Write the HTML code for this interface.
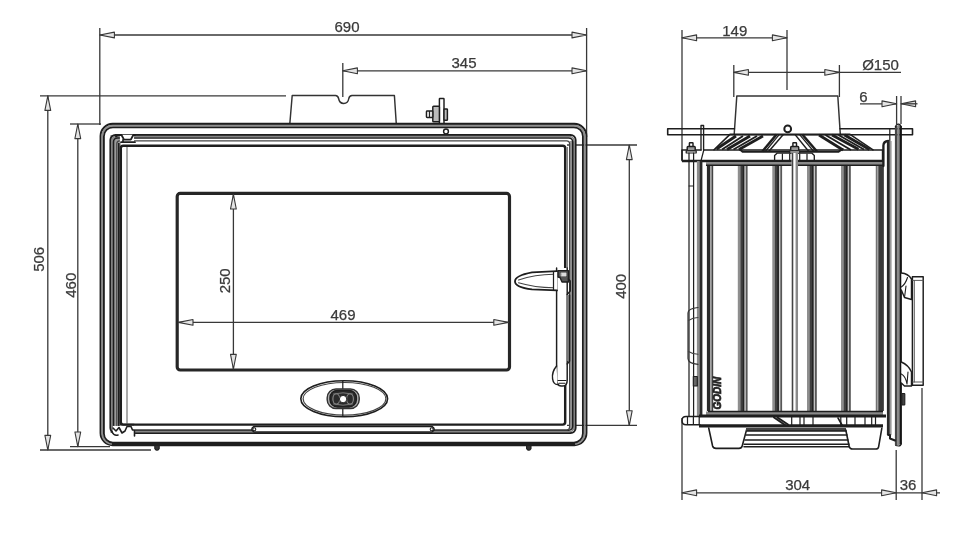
<!DOCTYPE html>
<html><head><meta charset="utf-8"><title>Dimensions</title>
<style>
html,body{margin:0;padding:0;background:#fff;}
body{width:960px;height:548px;overflow:hidden;}
svg{display:block;filter:blur(0.55px);}
text{font-family:"Liberation Sans",sans-serif;}
</style></head><body>
<svg width="960" height="548" viewBox="0 0 960 548">
<rect x="0" y="0" width="960" height="548" fill="#fff"/>
<line x1="99.8" y1="28" x2="99.8" y2="125" stroke="#383838" stroke-width="1.3" />
<line x1="586.6" y1="28" x2="586.6" y2="137" stroke="#383838" stroke-width="1.3" />
<line x1="99.8" y1="35" x2="586.6" y2="35" stroke="#383838" stroke-width="1.3" />
<polygon points="99.8,35 114.39999999999999,32.1 114.39999999999999,37.9" fill="#e4e4e4" stroke="#383838" stroke-width="1.1" stroke-linejoin="round"/>
<polygon points="586.6,35 572.0,32.1 572.0,37.9" fill="#e4e4e4" stroke="#383838" stroke-width="1.1" stroke-linejoin="round"/>
<text x="347" y="32" font-size="15" text-anchor="middle" fill="#3a3a3a" stroke="#3a3a3a" stroke-width="0.25" >690</text>
<line x1="342.8" y1="63" x2="342.8" y2="97" stroke="#383838" stroke-width="1.3" />
<line x1="342.8" y1="70.8" x2="586.6" y2="70.8" stroke="#383838" stroke-width="1.3" />
<polygon points="342.8,70.8 357.40000000000003,67.89999999999999 357.40000000000003,73.7" fill="#e4e4e4" stroke="#383838" stroke-width="1.1" stroke-linejoin="round"/>
<polygon points="586.6,70.8 572.0,67.89999999999999 572.0,73.7" fill="#e4e4e4" stroke="#383838" stroke-width="1.1" stroke-linejoin="round"/>
<text x="464" y="68.3" font-size="15" text-anchor="middle" fill="#3a3a3a" stroke="#3a3a3a" stroke-width="0.25" >345</text>
<line x1="40" y1="95.8" x2="286" y2="95.8" stroke="#383838" stroke-width="1.3" />
<line x1="40" y1="450" x2="151" y2="450" stroke="#383838" stroke-width="1.3" />
<line x1="47.8" y1="95.8" x2="47.8" y2="450" stroke="#383838" stroke-width="1.3" />
<polygon points="47.8,95.8 44.9,110.39999999999999 50.699999999999996,110.39999999999999" fill="#e4e4e4" stroke="#383838" stroke-width="1.1" stroke-linejoin="round"/>
<polygon points="47.8,450 44.9,435.4 50.699999999999996,435.4" fill="#e4e4e4" stroke="#383838" stroke-width="1.1" stroke-linejoin="round"/>
<text x="44.3" y="259.3" font-size="15" text-anchor="middle" fill="#3a3a3a" stroke="#3a3a3a" stroke-width="0.25" transform="rotate(-90 44.3 259.3)" >506</text>
<line x1="70" y1="124" x2="101" y2="124" stroke="#383838" stroke-width="1.3" />
<line x1="70" y1="446.6" x2="110" y2="446.6" stroke="#383838" stroke-width="1.3" />
<line x1="77.8" y1="124" x2="77.8" y2="446.6" stroke="#383838" stroke-width="1.3" />
<polygon points="77.8,124 74.89999999999999,138.6 80.7,138.6" fill="#e4e4e4" stroke="#383838" stroke-width="1.1" stroke-linejoin="round"/>
<polygon points="77.8,446.6 74.89999999999999,432.0 80.7,432.0" fill="#e4e4e4" stroke="#383838" stroke-width="1.1" stroke-linejoin="round"/>
<text x="76.2" y="285.2" font-size="15" text-anchor="middle" fill="#3a3a3a" stroke="#3a3a3a" stroke-width="0.25" transform="rotate(-90 76.2 285.2)" >460</text>
<line x1="567" y1="145" x2="637" y2="145" stroke="#383838" stroke-width="1.3" />
<line x1="567" y1="425.3" x2="637" y2="425.3" stroke="#383838" stroke-width="1.3" />
<line x1="629.3" y1="145" x2="629.3" y2="425.3" stroke="#383838" stroke-width="1.3" />
<polygon points="629.3,145 626.4,159.6 632.1999999999999,159.6" fill="#e4e4e4" stroke="#383838" stroke-width="1.1" stroke-linejoin="round"/>
<polygon points="629.3,425.3 626.4,410.7 632.1999999999999,410.7" fill="#e4e4e4" stroke="#383838" stroke-width="1.1" stroke-linejoin="round"/>
<text x="626.5" y="286.3" font-size="15" text-anchor="middle" fill="#3a3a3a" stroke="#3a3a3a" stroke-width="0.25" transform="rotate(-90 626.5 286.3)" >400</text>
<path d="M289.8,124 L292.2,95.5 L335.5,95.5 Q338,95.7 338.6,98.5 Q339.5,103.4 343.7,103.4 Q348,103.4 348.8,98.5 Q349.4,95.7 352,95.5 L394.4,95.5 L396.3,124" stroke="#333" stroke-width="1.46" fill="none" stroke-linejoin="round" stroke-linecap="round" />
<rect x="439.4" y="98.4" width="4.6" height="25.6" rx="0.5" ry="0.5" stroke="#1e1e1e" stroke-width="1.46" fill="#fff"/>
<rect x="432.8" y="106.3" width="6.6" height="15.5" rx="0.8" ry="0.8" stroke="#1e1e1e" stroke-width="1.46" fill="#bbb"/>
<rect x="426.4" y="111" width="6.4" height="6.5" rx="0.8" ry="0.8" stroke="#1e1e1e" stroke-width="1.34" fill="#ddd"/>
<rect x="444" y="109" width="3.4" height="11.3" rx="0.6" ry="0.6" stroke="#1e1e1e" stroke-width="1.46" fill="#bbb"/>
<line x1="429.5" y1="111" x2="429.5" y2="117.5" stroke="#1e1e1e" stroke-width="0.98" />
<circle cx="446" cy="131.5" r="2.4" stroke="#1e1e1e" stroke-width="1.46" fill="none"/>
<rect x="100.6" y="123.9" width="485.8" height="321.2" rx="12" ry="12" stroke="#1e1e1e" stroke-width="2.07" fill="none"/>
<rect x="102.3" y="125.6" width="482.3" height="318.3" rx="10.5" ry="10.5" stroke="#8e8e8e" stroke-width="1.83" fill="none"/>
<rect x="103.9" y="127.3" width="479.0" height="315.3" rx="9" ry="9" stroke="#1e1e1e" stroke-width="1.83" fill="none"/>
<line x1="112" y1="443.9" x2="575" y2="443.9" stroke="#1e1e1e" stroke-width="2.68" />
<rect x="110.4" y="135" width="10.4" height="298" fill="#9a9a9a" stroke="none"/>
<rect x="569.6" y="141" width="6" height="289" fill="#9c9c9c" stroke="none"/>
<rect x="110.4" y="135" width="465.2" height="298" rx="5" ry="5" stroke="#1e1e1e" stroke-width="1.95" fill="none"/>
<rect x="111.95" y="136.5" width="462.1" height="295.1" rx="4.5" ry="4.5" stroke="#858585" stroke-width="1.59" fill="none"/>
<rect x="113.5" y="138" width="459.2" height="292.2" rx="4" ry="4" stroke="#1e1e1e" stroke-width="1.59" fill="none"/>
<rect x="116.8" y="140.8" width="452.8" height="289.3" rx="3" ry="3" stroke="#444" stroke-width="1.22" fill="none"/>
<line x1="118.8" y1="143" x2="118.8" y2="428" stroke="#1e1e1e" stroke-width="1.59" />
<rect x="120.8" y="145.8" width="444.4" height="278.8" rx="2.5" ry="2.5" stroke="#1e1e1e" stroke-width="2.44" fill="none"/>
<line x1="127" y1="147" x2="127" y2="424" stroke="#666" stroke-width="1.1" />
<line x1="567.2" y1="147" x2="567.2" y2="268" stroke="#555" stroke-width="1.1" />
<path d="M120,134.8 L134,134.8 L134,142.5 L120,142.5 Z" stroke="#fff" stroke-width="0.12" fill="#fff" stroke-linejoin="round" stroke-linecap="round" />
<path d="M116,136.5 Q117,135 120,135 L121.5,135 L124,139.6 L130.8,139.6 L133.3,135 L135,135" stroke="#1e1e1e" stroke-width="1.83" fill="none" stroke-linejoin="round" stroke-linecap="round" />
<path d="M121,142.2 L135,142.2 M123,139.8 L123,142" stroke="#1e1e1e" stroke-width="1.71" fill="none" stroke-linejoin="round" stroke-linecap="round" />
<path d="M113,426 L135,426 L135,436 L113,436 Z" stroke="#fff" stroke-width="0.12" fill="#fff" stroke-linejoin="round" stroke-linecap="round" />
<path d="M113,428 L116,431 L119,427.5 L122,433 L125,431 L127,426.5 L131,426.5 L132.5,430 L134.5,430 L134.5,436" stroke="#1e1e1e" stroke-width="1.59" fill="none" stroke-linejoin="round" stroke-linecap="round" />
<path d="M112,432 Q114,436 118,435 M120.8,424.6 L134,424.6" stroke="#1e1e1e" stroke-width="1.59" fill="none" stroke-linejoin="round" stroke-linecap="round" />
<path d="M254,426.4 L432,426.4 Q436.5,429.2 432,432 L254,432 Q249.5,429.2 254,426.4 Z" stroke="#1e1e1e" stroke-width="1.46" fill="#fff" stroke-linejoin="round" stroke-linecap="round" />
<circle cx="254.3" cy="429.2" r="1.5" stroke="#1e1e1e" stroke-width="1.1" fill="none"/>
<circle cx="431.7" cy="429.2" r="1.5" stroke="#1e1e1e" stroke-width="1.1" fill="none"/>
<path d="M154.8,445.5 L154.8,448.6 Q157,451.8 159.2,448.6 L159.2,445.5 Z" stroke="#1e1e1e" stroke-width="1.1" fill="#333" stroke-linejoin="round" stroke-linecap="round" />
<path d="M526.6,445.5 L526.6,448.6 Q528.8,451.8 531,448.6 L531,445.5 Z" stroke="#1e1e1e" stroke-width="1.1" fill="#333" stroke-linejoin="round" stroke-linecap="round" />
<rect x="177.2" y="193.4" width="332.3" height="176.6" rx="3" ry="3" stroke="#262626" stroke-width="3.17" fill="none"/>
<line x1="233.4" y1="194.4" x2="233.4" y2="369" stroke="#383838" stroke-width="1.3" />
<polygon points="233.4,194.4 230.5,209.0 236.3,209.0" fill="#e4e4e4" stroke="#383838" stroke-width="1.1" stroke-linejoin="round"/>
<polygon points="233.4,369 230.5,354.4 236.3,354.4" fill="#e4e4e4" stroke="#383838" stroke-width="1.1" stroke-linejoin="round"/>
<text x="230.2" y="280.8" font-size="15" text-anchor="middle" fill="#3a3a3a" stroke="#3a3a3a" stroke-width="0.25" transform="rotate(-90 230.2 280.8)" >250</text>
<line x1="178.4" y1="322.4" x2="508.4" y2="322.4" stroke="#383838" stroke-width="1.3" />
<polygon points="178.4,322.4 193.0,319.5 193.0,325.29999999999995" fill="#e4e4e4" stroke="#383838" stroke-width="1.1" stroke-linejoin="round"/>
<polygon points="508.4,322.4 493.79999999999995,319.5 493.79999999999995,325.29999999999995" fill="#e4e4e4" stroke="#383838" stroke-width="1.1" stroke-linejoin="round"/>
<text x="343" y="319.8" font-size="15" text-anchor="middle" fill="#3a3a3a" stroke="#3a3a3a" stroke-width="0.25" >469</text>
<ellipse cx="344.2" cy="398.8" rx="43.4" ry="18" stroke="#1e1e1e" stroke-width="1.59" fill="none"/>
<ellipse cx="344.5" cy="398.8" rx="41.4" ry="16.3" stroke="#444" stroke-width="1.22" fill="none"/>
<line x1="342.8" y1="381" x2="342.8" y2="416.6" stroke="#1e1e1e" stroke-width="1.22" />
<rect x="327.2" y="388.9" width="32.0" height="19.6" rx="8.8" ry="8.8" stroke="#333" stroke-width="1.46" fill="#b0b0b0"/>
<rect x="330.0" y="390.4" width="26.4" height="16.6" rx="7.4" ry="7.4" stroke="#1e1e1e" stroke-width="1.46" fill="#2a2a2a"/>
<ellipse cx="336.3" cy="399" rx="3.4" ry="5.2" stroke="#8c8c8c" stroke-width="1.1" fill="none"/>
<ellipse cx="350" cy="399" rx="3.4" ry="5.2" stroke="#8c8c8c" stroke-width="1.1" fill="none"/>
<path d="M333.5,394 Q343,391.5 352.5,394 M333.5,404 Q343,406.5 352.5,404" stroke="#7a7a7a" stroke-width="0.98" fill="none" stroke-linejoin="round" stroke-linecap="round" />
<circle cx="343.1" cy="399.1" r="3.7" stroke="#222" stroke-width="0.98" fill="#fff"/>
<path d="M556.6,268 L556.6,378 Q556.6,386 561,386 L563,386 Q567.2,386 567.2,380 L567.2,268" stroke="#1e1e1e" stroke-width="1.46" fill="#fff" stroke-linejoin="round" stroke-linecap="round" />
<path d="M557,271.2 L532,272.4 Q515,275.6 515,281.4 Q515,287 532,289.4 L557,290.4" stroke="#1e1e1e" stroke-width="1.83" fill="#fff" stroke-linejoin="round" stroke-linecap="round" />
<path d="M518.5,280 Q535,274.4 553.5,274.2 M518.5,282.8 Q535,287.6 553.5,287.8" stroke="#444" stroke-width="1.1" fill="none" stroke-linejoin="round" stroke-linecap="round" />
<path d="M553.5,271.6 L553.5,290.2" stroke="#1e1e1e" stroke-width="1.22" fill="none" stroke-linejoin="round" stroke-linecap="round" />
<path d="M558,270.6 L568.4,270.6 L568.4,282 L562,282 L560,277.5 L558,277 Z" stroke="#1e1e1e" stroke-width="1.34" fill="#555" stroke-linejoin="round" stroke-linecap="round" />
<path d="M561.5,273 L566,273 L566,276 L561.5,276 Z" stroke="#ddd" stroke-width="0.73" fill="#ddd" stroke-linejoin="round" stroke-linecap="round" />
<path d="M568.4,279 L570.2,281 L570.2,291 L567.2,294.5" stroke="#1e1e1e" stroke-width="1.46" fill="none" stroke-linejoin="round" stroke-linecap="round" />
<rect x="567.2" y="295" width="2.4" height="66" fill="#888" stroke="none"/>
<path d="M569.6,295 L569.6,361 L567.2,364" stroke="#1e1e1e" stroke-width="1.46" fill="none" stroke-linejoin="round" stroke-linecap="round" />
<path d="M556.6,366 Q551.5,372 552.6,379 Q553.5,384.5 557.5,384.6" stroke="#1e1e1e" stroke-width="1.46" fill="#fff" stroke-linejoin="round" stroke-linecap="round" />
<path d="M558,380.5 L566,380.5 M559,383.2 L565,383.2" stroke="#1e1e1e" stroke-width="1.1" fill="none" stroke-linejoin="round" stroke-linecap="round" />
<line x1="682" y1="30" x2="682" y2="160" stroke="#383838" stroke-width="1.3" />
<line x1="787" y1="30" x2="787" y2="90" stroke="#383838" stroke-width="1.3" />
<line x1="682" y1="37.8" x2="787" y2="37.8" stroke="#383838" stroke-width="1.3" />
<polygon points="682,37.8 696.6,34.9 696.6,40.699999999999996" fill="#e4e4e4" stroke="#383838" stroke-width="1.1" stroke-linejoin="round"/>
<polygon points="787,37.8 772.4,34.9 772.4,40.699999999999996" fill="#e4e4e4" stroke="#383838" stroke-width="1.1" stroke-linejoin="round"/>
<text x="734.8" y="36" font-size="15" text-anchor="middle" fill="#3a3a3a" stroke="#3a3a3a" stroke-width="0.25" >149</text>
<line x1="733.8" y1="65" x2="733.8" y2="97" stroke="#383838" stroke-width="1.3" />
<line x1="839.4" y1="65" x2="839.4" y2="97" stroke="#383838" stroke-width="1.3" />
<line x1="733.8" y1="72.4" x2="839.4" y2="72.4" stroke="#383838" stroke-width="1.3" />
<polygon points="733.8,72.4 748.4,69.5 748.4,75.30000000000001" fill="#e4e4e4" stroke="#383838" stroke-width="1.1" stroke-linejoin="round"/>
<polygon points="839.4,72.4 824.8,69.5 824.8,75.30000000000001" fill="#e4e4e4" stroke="#383838" stroke-width="1.1" stroke-linejoin="round"/>
<line x1="839.4" y1="72.4" x2="901" y2="72.4" stroke="#383838" stroke-width="1.3" />
<text x="880.5" y="70.3" font-size="15" text-anchor="middle" fill="#3a3a3a" stroke="#3a3a3a" stroke-width="0.25" >Ø150</text>
<line x1="896.6" y1="96" x2="896.6" y2="124" stroke="#383838" stroke-width="1.3" />
<line x1="901" y1="96" x2="901" y2="124" stroke="#383838" stroke-width="1.3" />
<line x1="860" y1="103.8" x2="896.6" y2="103.8" stroke="#383838" stroke-width="1.3" />
<polygon points="896.6,103.8 882.0,100.89999999999999 882.0,106.7" fill="#e4e4e4" stroke="#383838" stroke-width="1.1" stroke-linejoin="round"/>
<polygon points="901,103.8 915.6,100.89999999999999 915.6,106.7" fill="#e4e4e4" stroke="#383838" stroke-width="1.1" stroke-linejoin="round"/>
<line x1="901" y1="103.8" x2="917.5" y2="103.8" stroke="#383838" stroke-width="1.3" />
<text x="863.5" y="101.8" font-size="15" text-anchor="middle" fill="#3a3a3a" stroke="#3a3a3a" stroke-width="0.25" >6</text>
<line x1="682" y1="418" x2="682" y2="500" stroke="#383838" stroke-width="1.3" />
<line x1="896.2" y1="450" x2="896.2" y2="500" stroke="#383838" stroke-width="1.3" />
<line x1="922" y1="388" x2="922" y2="500" stroke="#383838" stroke-width="1.3" />
<line x1="682" y1="492.8" x2="896.2" y2="492.8" stroke="#383838" stroke-width="1.3" />
<polygon points="682,492.8 696.6,489.90000000000003 696.6,495.7" fill="#e4e4e4" stroke="#383838" stroke-width="1.1" stroke-linejoin="round"/>
<polygon points="896.2,492.8 881.6,489.90000000000003 881.6,495.7" fill="#e4e4e4" stroke="#383838" stroke-width="1.1" stroke-linejoin="round"/>
<line x1="896.2" y1="492.8" x2="940" y2="492.8" stroke="#383838" stroke-width="1.3" />
<polygon points="922,492.8 936.6,489.90000000000003 936.6,495.7" fill="#e4e4e4" stroke="#383838" stroke-width="1.1" stroke-linejoin="round"/>
<text x="797.7" y="489.8" font-size="15" text-anchor="middle" fill="#3a3a3a" stroke="#3a3a3a" stroke-width="0.25" >304</text>
<text x="908" y="489.8" font-size="15" text-anchor="middle" fill="#3a3a3a" stroke="#3a3a3a" stroke-width="0.25" >36</text>
<path d="M734.2,134.4 L736.8,96 L837.8,96 L840.3,134.4" stroke="#333" stroke-width="1.46" fill="none" stroke-linejoin="round" stroke-linecap="round" />
<path d="M734.4,128.8 L667.7,128.8 L667.7,134.8 L912.5,134.8 L912.5,128.8 L840,128.8" stroke="#1e1e1e" stroke-width="1.59" fill="none" stroke-linejoin="round" stroke-linecap="round" />
<circle cx="787.7" cy="128.9" r="3.4" stroke="#1e1e1e" stroke-width="1.95" fill="#fff"/>
<path d="M701,150 L701,125.5 L703.6,125.5 L703.6,150" stroke="#1e1e1e" stroke-width="1.34" fill="none" stroke-linejoin="round" stroke-linecap="round" />
<path d="M714,149.8 L730,134.4 L850,134.4 L873,149.8" stroke="#1e1e1e" stroke-width="1.59" fill="none" stroke-linejoin="round" stroke-linecap="round" />
<line x1="716.5" y1="149" x2="736" y2="136" stroke="#1e1e1e" stroke-width="2.93" />
<line x1="722" y1="149.5" x2="743" y2="136" stroke="#1e1e1e" stroke-width="1.95" />
<line x1="727" y1="149.5" x2="750" y2="136" stroke="#1e1e1e" stroke-width="2.93" />
<line x1="733.5" y1="149.5" x2="757" y2="136" stroke="#1e1e1e" stroke-width="1.95" />
<line x1="739" y1="149.5" x2="763" y2="136" stroke="#1e1e1e" stroke-width="2.68" />
<line x1="762.3" y1="151.5" x2="776.4" y2="134.6" stroke="#1e1e1e" stroke-width="2.44" />
<line x1="765.3" y1="151.5" x2="779.2" y2="134.6" stroke="#1e1e1e" stroke-width="1.22" />
<line x1="768.7" y1="151.5" x2="783.3" y2="134.6" stroke="#1e1e1e" stroke-width="1.46" />
<line x1="795.1" y1="134.6" x2="808.8" y2="151.5" stroke="#1e1e1e" stroke-width="1.46" />
<line x1="799.6" y1="134.6" x2="813.8" y2="151.5" stroke="#1e1e1e" stroke-width="1.22" />
<line x1="802.4" y1="134.6" x2="817" y2="151.5" stroke="#1e1e1e" stroke-width="2.44" />
<line x1="819" y1="135" x2="843" y2="150" stroke="#1e1e1e" stroke-width="2.68" />
<line x1="825.5" y1="135" x2="851" y2="150" stroke="#1e1e1e" stroke-width="1.95" />
<line x1="832" y1="135" x2="858.5" y2="149.3" stroke="#1e1e1e" stroke-width="2.93" />
<line x1="838.5" y1="135" x2="864" y2="149.5" stroke="#1e1e1e" stroke-width="1.95" />
<line x1="844.5" y1="135" x2="869.5" y2="149.5" stroke="#1e1e1e" stroke-width="2.93" />
<path d="M739.6,149.3 L742.6,151.7 L838.6,151.7 L842.6,149" stroke="#1e1e1e" stroke-width="2.07" fill="none" stroke-linejoin="round" stroke-linecap="round" />
<path d="M682,160.6 L682,150 L701,150 M703.8,150 L882.6,150 L882.6,160.6" stroke="#1e1e1e" stroke-width="1.59" fill="none" stroke-linejoin="round" stroke-linecap="round" />
<path d="M703.8,150 L701.2,160" stroke="#1e1e1e" stroke-width="1.22" fill="none" stroke-linejoin="round" stroke-linecap="round" />
<line x1="682" y1="161" x2="883" y2="161" stroke="#1e1e1e" stroke-width="2.68" />
<rect x="706" y="162" width="177" height="3.4" fill="#8a8a8a" stroke="none"/>
<line x1="706" y1="165.2" x2="883" y2="165.2" stroke="#1e1e1e" stroke-width="1.59" />
<path d="M774.6,160 L774.6,155.4 L777,153.2 L812,153.2 L814.3,155.4 L814.3,160" stroke="#1e1e1e" stroke-width="1.34" fill="none" stroke-linejoin="round" stroke-linecap="round" />
<path d="M782.4,160 L782.4,154 M789.7,160 L789.7,154 M799.7,160 L799.7,154 M807,160 L807,154" stroke="#1e1e1e" stroke-width="1.22" fill="none" stroke-linejoin="round" stroke-linecap="round" />
<rect x="689.4000000000001" y="142.8" width="3.6" height="4.5" rx="0.5" ry="0.5" stroke="#1e1e1e" stroke-width="1.46" fill="#fff"/>
<rect x="687.2" y="146.60000000000002" width="8" height="4.2" rx="0.8" ry="0.8" stroke="#1e1e1e" stroke-width="1.46" fill="#9a9a9a"/>
<rect x="686.2" y="150.8" width="10" height="2.2" rx="0.3" ry="0.3" stroke="#1e1e1e" stroke-width="1.22" fill="#fff"/>
<rect x="792.9000000000001" y="142.8" width="3.6" height="4.5" rx="0.5" ry="0.5" stroke="#1e1e1e" stroke-width="1.46" fill="#fff"/>
<rect x="790.7" y="146.60000000000002" width="8" height="4.2" rx="0.8" ry="0.8" stroke="#1e1e1e" stroke-width="1.46" fill="#9a9a9a"/>
<rect x="789.7" y="150.8" width="10" height="2.2" rx="0.3" ry="0.3" stroke="#1e1e1e" stroke-width="1.22" fill="#fff"/>
<path d="M689,153 L689,416 M693.6,153 L693.6,416" stroke="#1e1e1e" stroke-width="1.22" fill="none" stroke-linejoin="round" stroke-linecap="round" />
<path d="M689,186 L693.6,186" stroke="#1e1e1e" stroke-width="0.98" fill="none" stroke-linejoin="round" stroke-linecap="round" />
<rect x="791.6" y="153" width="6.4" height="263.5" fill="#fff" stroke="none"/>
<line x1="792.5" y1="153" x2="792.5" y2="416.5" stroke="#444" stroke-width="1.59" />
<line x1="796.8" y1="153" x2="796.8" y2="416.5" stroke="#8a8a8a" stroke-width="2.44" />
<rect x="696.9" y="161" width="3" height="255" fill="#8c8c8c" stroke="none"/>
<rect x="699.7" y="161" width="2.7" height="255" fill="#2a2a2a" stroke="none"/>
<rect x="706.9" y="166" width="3.3" height="245" fill="#2a2a2a" stroke="none"/>
<rect x="710.2" y="166" width="1.6" height="245" fill="#999" stroke="none"/>
<rect x="711.7" y="166" width="1.5" height="245" fill="#444" stroke="none"/>
<rect x="737.8" y="166" width="2.6" height="245" fill="#8e8e8e" stroke="none"/>
<rect x="740.3" y="166" width="4.3" height="245" fill="#404040" stroke="none"/>
<rect x="742.8" y="166" width="1.5" height="245" fill="#242424" stroke="none"/>
<rect x="744.5999999999999" y="166" width="1.3" height="245" fill="#c4c4c4" stroke="none"/>
<rect x="745.8" y="166" width="1.8" height="245" fill="#585858" stroke="none"/>
<rect x="772.3" y="166" width="2.6" height="245" fill="#8e8e8e" stroke="none"/>
<rect x="774.8" y="166" width="4.3" height="245" fill="#404040" stroke="none"/>
<rect x="777.3" y="166" width="1.5" height="245" fill="#242424" stroke="none"/>
<rect x="779.0999999999999" y="166" width="1.3" height="245" fill="#c4c4c4" stroke="none"/>
<rect x="780.3" y="166" width="1.8" height="245" fill="#585858" stroke="none"/>
<rect x="807.0" y="166" width="2.6" height="245" fill="#8e8e8e" stroke="none"/>
<rect x="809.5" y="166" width="4.3" height="245" fill="#404040" stroke="none"/>
<rect x="812.0" y="166" width="1.5" height="245" fill="#242424" stroke="none"/>
<rect x="813.8" y="166" width="1.3" height="245" fill="#c4c4c4" stroke="none"/>
<rect x="815.0" y="166" width="1.8" height="245" fill="#585858" stroke="none"/>
<rect x="841.0" y="166" width="2.6" height="245" fill="#8e8e8e" stroke="none"/>
<rect x="843.5" y="166" width="4.3" height="245" fill="#404040" stroke="none"/>
<rect x="846.0" y="166" width="1.5" height="245" fill="#242424" stroke="none"/>
<rect x="847.8" y="166" width="1.3" height="245" fill="#c4c4c4" stroke="none"/>
<rect x="849.0" y="166" width="1.8" height="245" fill="#585858" stroke="none"/>
<rect x="875.8" y="166" width="1.1" height="245" fill="#555" stroke="none"/>
<rect x="876.8" y="166" width="1.1" height="245" fill="#aaa" stroke="none"/>
<rect x="877.8" y="166" width="1.1" height="245" fill="#666" stroke="none"/>
<rect x="878.8" y="166" width="4.3" height="245" fill="#3a3a3a" stroke="none"/>
<rect x="883" y="166" width="1" height="245" fill="#555" stroke="none"/>
<rect x="706" y="411.5" width="177" height="4" fill="#8a8a8a" stroke="none"/>
<line x1="708" y1="411.6" x2="883" y2="411.6" stroke="#1e1e1e" stroke-width="1.46" />
<line x1="699" y1="416.0" x2="886" y2="416.0" stroke="#1e1e1e" stroke-width="3.17" />
<path d="M700,416.5 L686,416.5 Q682,416.5 682,420.5 Q682,424.8 686,424.8 L700,424.8" stroke="#1e1e1e" stroke-width="1.46" fill="none" stroke-linejoin="round" stroke-linecap="round" />
<path d="M687.5,417 L687.5,424.5 M693.4,417 L693.4,424.5 M699.2,417 L699.2,424.5" stroke="#1e1e1e" stroke-width="1.22" fill="none" stroke-linejoin="round" stroke-linecap="round" />
<line x1="699" y1="425.9" x2="883" y2="425.9" stroke="#1e1e1e" stroke-width="3.17" />
<line x1="791.7" y1="417" x2="791.7" y2="425" stroke="#1e1e1e" stroke-width="1.22" />
<line x1="800" y1="417" x2="800" y2="425" stroke="#1e1e1e" stroke-width="1.22" />
<line x1="804" y1="417" x2="804" y2="425" stroke="#1e1e1e" stroke-width="1.22" />
<line x1="813" y1="417" x2="813" y2="425" stroke="#1e1e1e" stroke-width="1.22" />
<line x1="840.8" y1="417" x2="840.8" y2="425" stroke="#1e1e1e" stroke-width="1.22" />
<line x1="846.7" y1="417" x2="846.7" y2="425" stroke="#1e1e1e" stroke-width="1.22" />
<line x1="855" y1="417" x2="855" y2="425" stroke="#1e1e1e" stroke-width="1.22" />
<line x1="865" y1="417" x2="865" y2="425" stroke="#1e1e1e" stroke-width="1.22" />
<line x1="871.7" y1="417" x2="871.7" y2="425" stroke="#1e1e1e" stroke-width="1.22" />
<line x1="875.5" y1="417" x2="875.5" y2="425" stroke="#1e1e1e" stroke-width="1.22" />
<path d="M774,417.5 L785,425 M777.5,417.5 L788,424.5" stroke="#1e1e1e" stroke-width="1.95" fill="none" stroke-linejoin="round" stroke-linecap="round" />
<path d="M838,418 L842,425" stroke="#1e1e1e" stroke-width="1.59" fill="none" stroke-linejoin="round" stroke-linecap="round" />
<path d="M708.7,428 L712.6,446 Q713.2,448.4 716,448.4 L739,448.4 Q741.6,448.4 742.2,446 L746.6,429.6" stroke="#1e1e1e" stroke-width="1.59" fill="none" stroke-linejoin="round" stroke-linecap="round" />
<rect x="746" y="428" width="100" height="3" fill="#444" stroke="none"/>
<path d="M747,431 L846,431 M746,435 L847,435 M745,440 L848,440 M744.2,444.2 L849,444.2 M744,446.8 L849,446.8" stroke="#1e1e1e" stroke-width="1.59" fill="none" stroke-linejoin="round" stroke-linecap="round" />
<path d="M845.8,430 L849.2,446.5 Q849.8,449 852.6,449 L875.5,449 Q878.2,449 878.6,446.8 L881.8,428.3" stroke="#1e1e1e" stroke-width="1.59" fill="none" stroke-linejoin="round" stroke-linecap="round" />
<rect x="894.9" y="126" width="2.7" height="319" fill="#484848" stroke="none"/>
<rect x="897.5" y="125" width="2.1" height="320" fill="#8a8a8a" stroke="none"/>
<rect x="899.5" y="126" width="2.4" height="318.5" fill="#141414" stroke="none"/>
<path d="M895.4,127 Q896.5,123.8 898.6,124.2 Q901.2,125 901.2,128 M901.2,443 Q901.2,446 898.6,446 L895.6,445.5" stroke="#1e1e1e" stroke-width="1.22" fill="none" stroke-linejoin="round" stroke-linecap="round" />
<path d="M883.4,166 L883.4,145.5 Q883.6,141.2 888.2,141" stroke="#1e1e1e" stroke-width="2.32" fill="none" stroke-linejoin="round" stroke-linecap="round" />
<rect x="886.9" y="141" width="2.2" height="294" fill="#282828" stroke="none"/>
<rect x="889" y="141" width="1" height="294" fill="#555" stroke="none"/>
<rect x="890" y="141" width="1" height="294" fill="#999" stroke="none"/>
<rect x="891" y="141" width="1" height="294" fill="#c0c0c0" stroke="none"/>
<path d="M888.2,435 L890,435 L890,438.5 L895,440.5" stroke="#1e1e1e" stroke-width="2.07" fill="none" stroke-linejoin="round" stroke-linecap="round" />
<path d="M889.8,128.8 L889.8,140.5" stroke="#1e1e1e" stroke-width="1.22" fill="none" stroke-linejoin="round" stroke-linecap="round" />
<path d="M912.4,276.8 L923.2,276.8 L923.2,385.2 L912.4,385.2 Z" stroke="#1e1e1e" stroke-width="1.46" fill="#fff" stroke-linejoin="round" stroke-linecap="round" />
<path d="M914.3,280.4 L914.3,382 M912.4,280.4 L923.2,280.4 M912.4,382 L923.2,382" stroke="#555" stroke-width="0.98" fill="none" stroke-linejoin="round" stroke-linecap="round" />
<path d="M901.3,273 Q908,273.5 911.5,279 L911.5,299.5 L904.5,297.5 L901.3,290" stroke="#1e1e1e" stroke-width="1.46" fill="#fff" stroke-linejoin="round" stroke-linecap="round" />
<path d="M901.3,287 Q905.5,284 907.5,277.5 M904.5,297.5 L906,286" stroke="#1e1e1e" stroke-width="1.1" fill="none" stroke-linejoin="round" stroke-linecap="round" />
<path d="M901.3,362 Q908.5,365 911.5,372 L911.5,386 L904.5,386 L901.3,383" stroke="#1e1e1e" stroke-width="1.46" fill="#fff" stroke-linejoin="round" stroke-linecap="round" />
<path d="M901.3,374 Q905.5,376 907,384 M907,384 L908,372" stroke="#1e1e1e" stroke-width="1.1" fill="none" stroke-linejoin="round" stroke-linecap="round" />
<rect x="901.8" y="393.5" width="3" height="11.5" rx="0.6" ry="0.6" stroke="#1e1e1e" stroke-width="1.1" fill="#444"/>
<path d="M698,307.5 Q688,308.5 688,313 L688,358.5 Q688,363.5 698,364.3" stroke="#333" stroke-width="1.22" fill="none" stroke-linejoin="round" stroke-linecap="round" />
<path d="M688.4,320.5 Q693,317.5 698,317.5 M688.4,351.5 Q693,354.3 698,354.3" stroke="#444" stroke-width="1.1" fill="none" stroke-linejoin="round" stroke-linecap="round" />
<path d="M693.3,376.5 L697.3,376.5 L697.3,386 L693.3,386 Z" stroke="#1e1e1e" stroke-width="1.1" fill="#666" stroke-linejoin="round" stroke-linecap="round" />
<text x="721" y="409.5" font-size="10" font-weight="bold" font-style="italic" fill="#222" stroke="#222" stroke-width="0.7" transform="rotate(-90 721 409.5)">GODIN</text>
</svg>
</body></html>
